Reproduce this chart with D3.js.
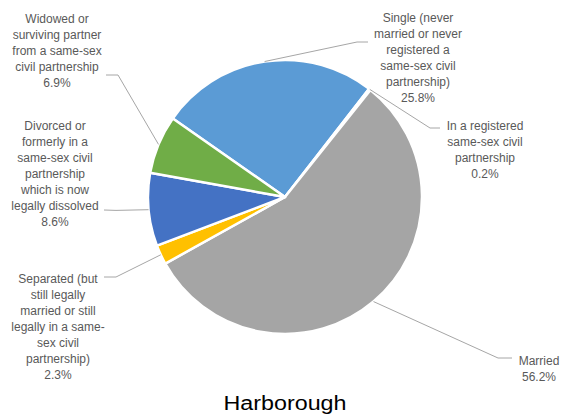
<!DOCTYPE html>
<html>
<head>
<meta charset="utf-8">
<script src="https://cdn.jsdelivr.net/npm/d3@7"></script>
<style>
  html, body { margin: 0; padding: 0; background: #fff; }
  svg { display: block; }
</style>
</head>
<body>
<svg id="chart" width="565" height="415"></svg>
<script>
// ---- Data ----
const categories = [
  "Single (never married or never registered a same-sex civil partnership)",
  "In a registered same-sex civil partnership",
  "Married",
  "Separated (but still legally married or still legally in a same-sex civil partnership)",
  "Divorced or formerly in a same-sex civil partnership which is now legally dissolved",
  "Widowed or surviving partner from a same-sex civil partnership"
];
const labelLines = [
  ["Single (never", "married or never", "registered a", "same-sex civil", "partnership)"],
  ["In a registered", "same-sex civil", "partnership"],
  ["Married"],
  ["Separated (but", "still legally", "married or still", "legally in a same-", "sex civil", "partnership)"],
  ["Divorced or", "formerly in a", "same-sex civil", "partnership", "which is now", "legally dissolved"],
  ["Widowed or", "surviving partner", "from a same-sex", "civil partnership"]
];
const values = [25.8, 0.2, 56.2, 2.3, 8.6, 6.9];
const colors = ["#5B9BD5", "#ED7D31", "#A5A5A5", "#FFC000", "#4472C4", "#70AD47"];
const title = "Harborough";

// ---- Layout (positions only) ----
const cx = 285, cy = 197, radius = 137;
const startDeg = -55;
// label: center x, first baseline y; leader: elbow point, end point
const labelLayout = [
  { x: 418, y: 22,  elbow: [357, 42],  end: [368, 42] },
  { x: 485, y: 130, elbow: [430, 128], end: [440, 128] },
  { x: 539, y: 365, elbow: [498, 358], end: [512, 358] },
  { x: 58,  y: 283, elbow: [116, 277], end: [104, 277] },
  { x: 55,  y: 130, elbow: [116, 210.4], end: [104, 210] },
  { x: 57,  y: 23,  elbow: [118, 75],  end: [106, 75] }
];
const lineH = 16;

const svg = d3.select("#chart");
const g = svg.append("g").attr("transform", `translate(${cx},${cy})`);

const pie = d3.pie()
  .sort(null)
  .value(d => d)
  .startAngle(startDeg * Math.PI / 180)
  .endAngle(startDeg * Math.PI / 180 + 2 * Math.PI);
const arcs = pie(values);
const arc = d3.arc().innerRadius(0).outerRadius(radius);
const edgeArc = d3.arc().innerRadius(radius).outerRadius(radius);

g.selectAll("path.slice")
  .data(arcs)
  .join("path")
  .attr("class", "slice")
  .attr("d", arc)
  .attr("fill", (d, i) => colors[i])
  .attr("stroke", "#fff")
  .attr("stroke-width", 2.5)
  .attr("stroke-linejoin", "round");

// leader lines
const line = d3.line();
svg.selectAll("path.leader")
  .data(arcs)
  .join("path")
  .attr("class", "leader")
  .attr("d", (d, i) => {
    const c = edgeArc.centroid(d);
    const L = labelLayout[i];
    return line([[cx + c[0], cy + c[1]], L.elbow, L.end]);
  })
  .attr("fill", "none")
  .attr("stroke", "#A6A6A6")
  .attr("stroke-width", 1);

// labels
const fmt = d3.format(".1f");
const labels = svg.selectAll("text.lbl")
  .data(arcs)
  .join("text")
  .attr("class", "lbl")
  .attr("text-anchor", "middle")
  .attr("font-family", "'Liberation Sans', Arial, sans-serif")
  .attr("font-size", 12)
  .attr("fill", "#595959");
labels.each(function(d, i) {
  const L = labelLayout[i];
  const lines = labelLines[i].concat([fmt(values[i]) + "%"]);
  d3.select(this).selectAll("tspan")
    .data(lines)
    .join("tspan")
    .attr("x", L.x)
    .attr("y", (t, j) => L.y + j * lineH)
    .text(t => t);
});

// title
svg.append("text")
  .attr("x", 285)
  .attr("y", 410)
  .attr("text-anchor", "middle")
  .attr("font-family", "'Liberation Sans', Arial, sans-serif")
  .attr("font-size", 20)
  .attr("fill", "#000")
  .attr("textLength", 123)
  .attr("lengthAdjust", "spacingAndGlyphs")
  .text(title);
</script>
</body>
</html>
